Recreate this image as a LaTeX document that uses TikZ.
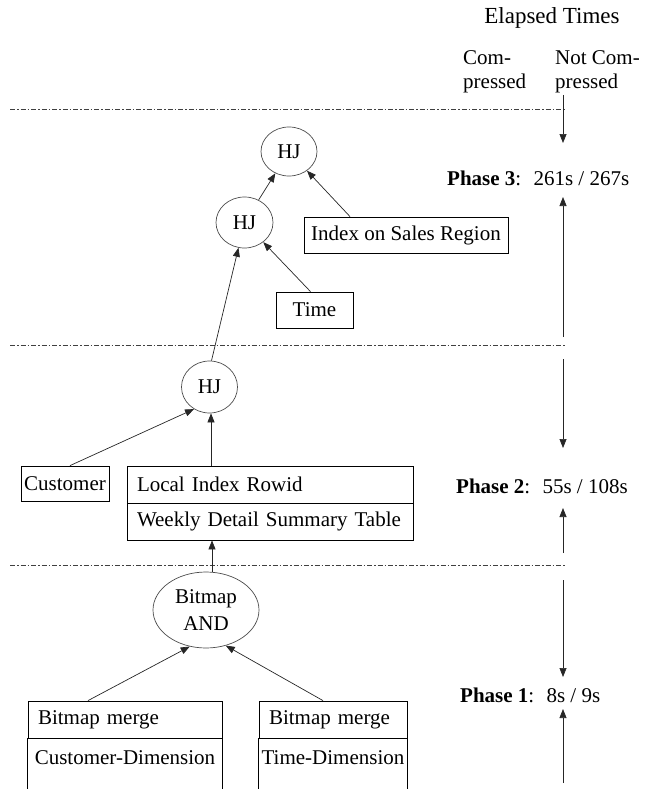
\documentclass[tikz,border=0pt]{standalone}
\usepackage{fontspec}
\setmainfont{Liberation Serif}
\usetikzlibrary{arrows.meta,shapes.geometric}
\begin{document}
\begin{tikzpicture}[x=1pt,y=-1pt,
  every node/.style={font=\fontsize{21}{25}\selectfont, inner sep=0pt},
  box/.style={draw, line width=0.8pt, rectangle},
  oval/.style={draw=black!70, line width=0.7pt, ellipse},
  arr/.style={draw=black!85, line width=0.7pt, -{Triangle[length=9pt,width=7pt]}},
  sepline/.style={draw=black!75, line width=0.7pt, dash pattern=on 5pt off 2pt on 1.5pt off 2pt},
  side/.style={draw, line width=0.8pt}
]
\useasboundingbox (0,0) rectangle (650,789);

% header
\node (elapsed) at (552,18) {\fontsize{23}{27}\selectfont Elapsed Times};
\node[anchor=west] (com1) at (463,58) {Com-};
\node[anchor=west] (com2) at (463,83) {pressed};
\node[anchor=west] (ncom1) at (555,58) {Not Com-};
\node[anchor=west] (ncom2) at (555,83) {pressed};

% separators
\coordinate (s1a) at (10,109); \coordinate (s1b) at (566,109);
\coordinate (s2a) at (10,345); \coordinate (s2b) at (566,345);
\coordinate (s3a) at (10,565); \coordinate (s3b) at (566,565);
\draw[sepline] (s1a) -- (s1b);
\draw[sepline] (s2a) -- (s2b);
\draw[sepline] (s3a) -- (s3b);

% phase labels
\node[anchor=west] (ph3) at (447,178) {\textbf{Phase 3}:~ 261s / 267s};
\node[anchor=west] (ph2) at (456,486) {\textbf{Phase 2}:~ 55s / 108s};
\node[anchor=west] (ph1) at (460,695) {\textbf{Phase 1}:~ 8s / 9s};

\coordinate (a3a) at (563,95);  \coordinate (a3b) at (563,143);
\coordinate (a3c) at (563,337); \coordinate (a3d) at (563,197);
\coordinate (a2a) at (563,359); \coordinate (a2b) at (563,448);
\coordinate (a2c) at (563,553); \coordinate (a2d) at (563,508);
\coordinate (a1a) at (563,580); \coordinate (a1b) at (563,677);
\coordinate (a1c) at (563,783); \coordinate (a1d) at (563,709);
\draw[arr] (a3a) -- (a3b);
\draw[arr] (a3c) -- (a3d);
\draw[arr] (a2a) -- (a2b);
\draw[arr] (a2c) -- (a2d);
\draw[arr] (a1a) -- (a1b);
\draw[arr] (a1c) -- (a1d);

% phase 3 tree
\node[oval, minimum width=56pt, minimum height=49pt] (hj1) at (289,151.5) {HJ};
\node[oval, minimum width=57pt, minimum height=51pt] (hj2) at (244.5,222.5) {HJ};
\node[box, minimum width=204pt, minimum height=36pt] (idx) at (406,235) {Index on Sales Region};
\node[box, minimum width=77pt, minimum height=36pt] (time) at (314.5,310) {Time};

% phase 2 tree
\node[oval, minimum width=56pt, minimum height=52pt] (hj3) at (209.5,387) {HJ};
\node[box, minimum width=88pt, minimum height=35pt] (cust) at (65,483.5) {Customer};
\node[box, minimum width=286pt, minimum height=37pt, text width=266pt, align=left] (lir) at (270,484.5) {Local Index Rowid};
\node[box, minimum width=286pt, minimum height=37pt, text width=266pt, align=left] (wdst) at (270,521.5) {Weekly Detail Summary Table};

% phase 1 tree
\node[oval, minimum width=106pt, minimum height=76pt, align=center, font=\fontsize{21}{27}\selectfont] (band) at (206,610) {Bitmap\\AND};
\node[box, minimum width=194pt, minimum height=37pt, text width=174pt, align=left] (bml) at (125,719.5) {Bitmap merge};
\node[box, minimum width=148pt, minimum height=37pt, text width=128pt, align=left] (bmr) at (333,719.5) {Bitmap merge};
\node (cdim) at (125,758) {Customer-Dimension};
\node (tdim) at (333,758) {Time-Dimension};
\draw[side] (bml.south west) -- ++(0,53);
\draw[side] (bml.south east) -- ++(0,53);
\draw[side] (bmr.south west) -- ++(0,53);
\draw[side] (bmr.south east) -- ++(0,53);
\draw[line width=1.4pt] (bmr.south west) -- (bmr.south east);

% connectors
\draw[arr] ([xshift=-56pt]idx.north) -- (hj1);
\draw[arr] ([xshift=-4pt]time.north) -- (hj2);
\draw[arr] (hj2) -- (hj1);
\draw[arr] ([xshift=2pt]hj3.north) -- (hj2);
\draw[arr] ([xshift=5pt]cust.north) -- (hj3.235);
\coordinate (lirtop) at ([xshift=-59pt]lir.north);
\draw[arr] (lirtop) -- (lirtop |- hj3.south);
\coordinate (wbot) at ([xshift=-58pt]wdst.south);
\draw[arr] (wbot |- band.north) -- (wbot);
\draw[arr] ([xshift=-37pt]bml.north) -- (band.246);
\draw[arr] ([xshift=-10pt]bmr.north) -- (band.299);
\end{tikzpicture}
\end{document}
